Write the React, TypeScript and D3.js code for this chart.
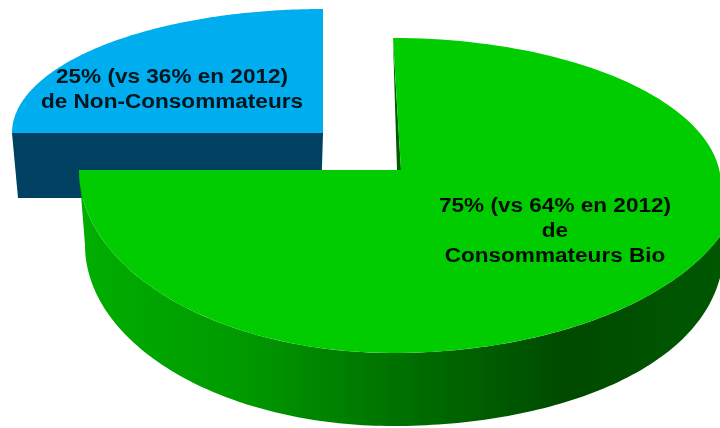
import React from "react";
import * as d3 from "d3";

const sliceNames = ["Consommateurs Bio", "Non-Consommateurs"];
const sliceValues = [75, 25];
const greenLabels = ["75% (vs 64% en 2012)", "de", "Consommateurs Bio"];
const blueLabels = ["25% (vs 36% en 2012)", "de Non-Consommateurs"];

type Pt = [number, number];
const W = 720, H = 428;

const pie = d3.pie<number>().sort(null).startAngle(0).endAngle(2 * Math.PI);
const [greenArc, blueArc] = pie(sliceValues);

// Perspective-distorted rim of the green slice's top face and bottom edge.
function greenTop(a: number): Pt {
  const s = Math.sin(a), c = Math.cos(a);
  if (s >= 0 && c >= 0) return [393 + 328 * s, 185 - 147 * c];
  if (s >= 0) return [393 + 351 * s, 170 - 183 * c];
  return [393 + 314 * s, 170 - 183 * c];
}
function greenBottom(a: number): Pt {
  const s = Math.sin(a), c = Math.cos(a);
  if (s >= 0) return [393 + 332 * s, 235 - 191 * Math.sign(c) * Math.pow(Math.abs(c), 0.85)];
  return [393 + 308 * s, 245 - 181 * c];
}
function blueTop(a: number): Pt {
  return [323 + 311 * Math.sin(a), 133 - 124 * Math.cos(a)];
}
const line = d3.line<Pt>();
const sample = (a0: number, a1: number, n = 160) =>
  d3.range(n + 1).map((i) => a0 + ((a1 - a0) * i) / n);

const greenFace = line([
  ...sample(greenArc.startAngle, greenArc.endAngle).map(greenTop),
  [398, 170],
  [401, 170],
])! + "Z";

const greenSide = line([
  ...sample(Math.PI * 1.5, Math.PI * 0.5).map(greenTop),
  ...sample(Math.PI * 0.5, Math.PI * 1.5).map(greenBottom),
])! + "Z";

const blueFace = line([
  [323, 133],
  ...sample(blueArc.startAngle, blueArc.endAngle).map(blueTop),
])! + "Z";

const blueSide = line([
  blueTop(blueArc.startAngle),
  [323, 133],
  [321, 198],
  [18, 198],
])! + "Z";

const gradStops: [number, string][] = [
  [0, "#00ae00"],
  [0.25, "#009a00"],
  [0.5, "#007000"],
  [0.76, "#004a00"],
  [1, "#005800"],
];

export default function App() {
  const font = "'Liberation Sans', Arial, sans-serif";
  const textProps = { fontFamily: font, fontWeight: "bold", fontSize: 21, textAnchor: "middle" as const };
  return (
    <svg
      width={W}
      height={H}
      viewBox={`0 0 ${W} ${H}`}
      style={{ position: "absolute", left: 0, top: 0, background: "#fff" }}
    >
      <defs>
        <linearGradient id="side" gradientUnits="userSpaceOnUse" x1={80} x2={720} y1={0} y2={0}>
          {gradStops.map(([o, c]) => (
            <stop key={o} offset={o} stopColor={c} />
          ))}
        </linearGradient>
        <filter id="soft" x="-5%" y="-5%" width="110%" height="110%">
          <feGaussianBlur stdDeviation={0.65} />
        </filter>
      </defs>
      <g filter="url(#soft)">
        <g aria-label={sliceNames[1]}>
          <path d={blueSide} fill="#004060" />
          <path d={blueFace} fill="#00adef" />
        </g>
        <g {...textProps} fill="#04141c">
          {blueLabels.map((t, i) => (
            <text key={t} transform={`translate(172,${83 + i * 25}) scale(1.075,1)`}>{t}</text>
          ))}
        </g>
        <g aria-label={sliceNames[0]}>
          <path d={greenSide} fill="url(#side)" />
          <path d="M393 40L397 170L401 170Z" fill="#005a00" />
          <path d={greenFace} fill="#00cc00" />
        </g>
        <g {...textProps} fill="#021002">
          {greenLabels.map((t, i) => (
            <text key={t} transform={`translate(555,${212 + i * 25}) scale(1.075,1)`}>{t}</text>
          ))}
        </g>
      </g>
    </svg>
  );
}
